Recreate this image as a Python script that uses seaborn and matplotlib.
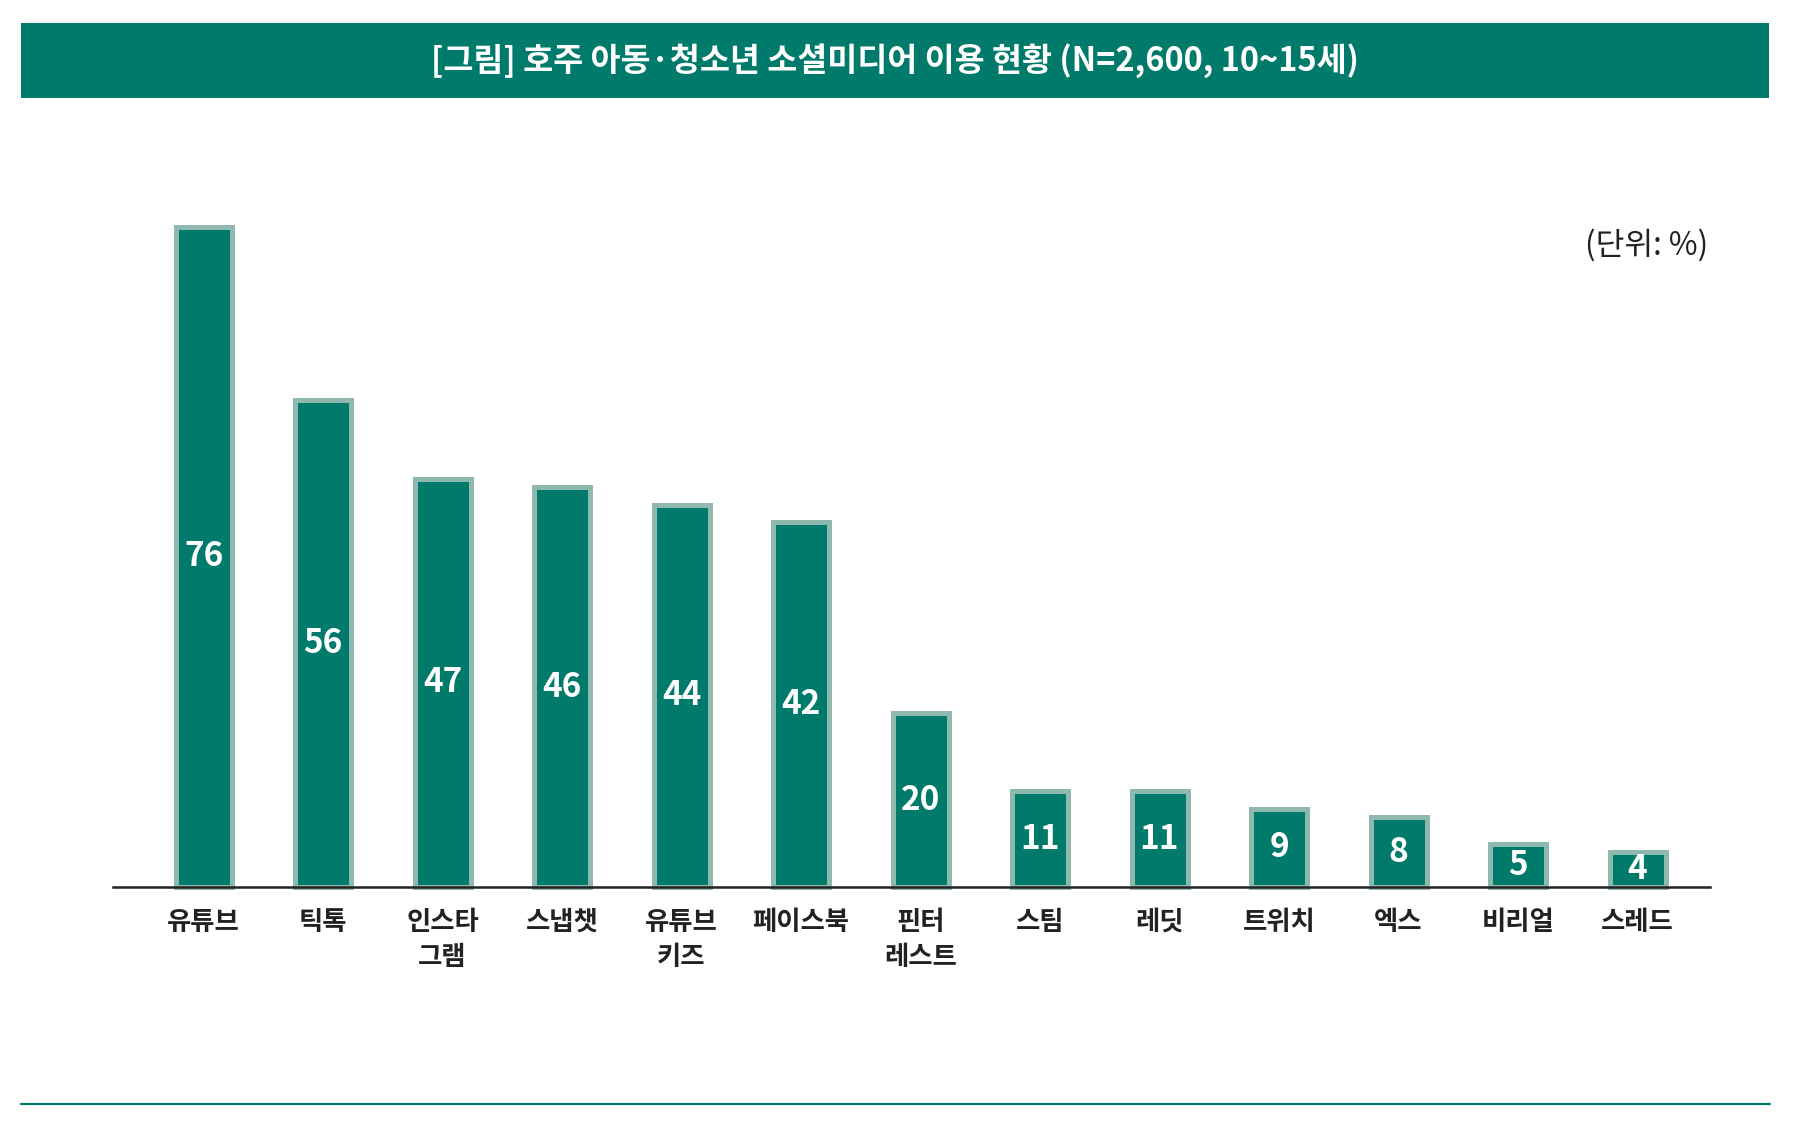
import pandas as pd
import numpy as np
import matplotlib.pyplot as plt
import seaborn as sns

# data
platforms = ['유튜브', '틱톡', '인스타\n그램', '스냅챗', '유튜브\n키즈', '페이스북', '핀터\n레스트',
             '스팀', '레딧', '트위치', '엑스', '비리얼', '스레드']
usage_pct = [76, 56, 47, 46, 44, 42, 20, 11, 11, 9, 8, 5, 4]

title = '[그림] 호주 아동·청소년 소셜미디어 이용 현황 (N=2,600, 10~15세)'
unit_label = '(단위: %)'

teal = '#007A6A'
edge_col = '#8FB8AE'

sns.set_theme(style='white')
plt.rcParams['font.family'] = ['Noto Sans CJK KR', 'DejaVu Sans']

df = pd.DataFrame({'platform': platforms, 'pct': usage_pct})

W, H = 1802, 1131
fig = plt.figure(figsize=(W / 100, H / 100), dpi=100)

# title banner
banner = fig.add_axes([21 / W, 1 - 98 / H, (1769 - 21) / W, 75 / H])
banner.set_facecolor(teal)
banner.set_xticks([])
banner.set_yticks([])
for s in banner.spines.values():
    s.set_visible(False)
banner.text(0.5, 0.5, title, color='white', fontsize=23.5, fontweight='bold',
            ha='center', va='center', transform=banner.transAxes)

# main plot
step = 119.5          # px between bar centres
x0 = 203.5            # px centre of first bar
base_y = 887
px_per_unit = (base_y - 226.5) / 76
ymax = 80
ax_h = ymax * px_per_unit
ax = fig.add_axes([113 / W, 1 - base_y / H, (1710 - 113) / W, ax_h / H])
sns.barplot(data=df, x='platform', y='pct', color=teal, saturation=1,
            width=56 / step, edgecolor=edge_col, linewidth=3.6, ax=ax)
for p in ax.patches:
    p.set_clip_on(False)

ax.set_xlim((113 - x0) / step, (1710 - x0) / step)
ax.set_ylim(0, ymax)

for i, v in enumerate(usage_pct):
    ax.text(i, v / 2, str(v), color='white', fontsize=24, fontweight='bold',
            ha='center', va='center')

for s in ['top', 'right', 'left']:
    ax.spines[s].set_visible(False)
ax.spines['bottom'].set_color('#222222')
ax.spines['bottom'].set_linewidth(1.8)
ax.spines['bottom'].set_zorder(5)
ax.set_yticks([])
ax.set_xlabel('')
ax.set_ylabel('')
ax.tick_params(axis='x', length=0, pad=15.5)
ax.set_xticks(range(len(platforms)))
ax.set_xticklabels(platforms, fontsize=19, fontweight='bold', color='#222222',
                   linespacing=1.4)

fig.text(1708 / W, 1 - 245 / H, unit_label, fontsize=22.5, color='#222222',
         ha='right', va='center')

# bottom rule
fig.add_artist(plt.Line2D([21 / W, 1770 / W], [1 - 1104 / H, 1 - 1104 / H],
                          color=teal, linewidth=1.6))

fig.savefig('out.png', dpi=100)
